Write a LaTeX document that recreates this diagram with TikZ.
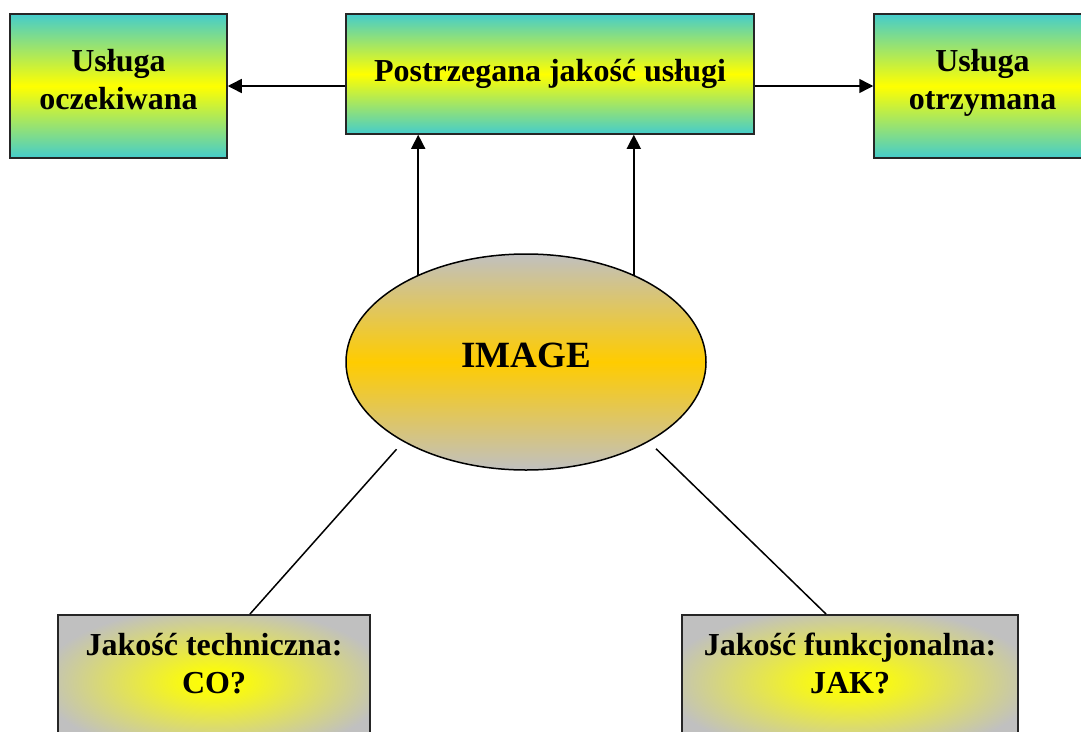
\documentclass[tikz,border=0pt]{standalone}
\usepackage{fontspec}
\setmainfont{Liberation Serif}
\usepackage{tikz}
\usetikzlibrary{positioning,
				shapes.geometric,
				arrows.meta,
				calc}
\definecolor{morski}{HTML}{44CCCC}
\definecolor{szary}{HTML}{C0C0C0}
\definecolor{zloty}{HTML}{FFCC00}
\pgfdeclareradialshading{poswiata}{\pgfpoint{0bp}{0bp}}{color(0bp)=(yellow); color(5bp)=(yellow!90!szary); color(28bp)=(szary); color(50bp)=(szary)}
\newcommand{\dol}{\rule[-13pt]{0pt}{0pt}}
\tikzset{
	gorny/.style={draw=black!85, line width=1.5pt, top color=morski, bottom color=morski, middle color=yellow,
		align=center, inner sep=0pt, font=\fontsize{32}{38}\selectfont\bfseries},
	dolny/.style={draw=black!85, line width=1.5pt, shading=poswiata, anchor=north, inner sep=0pt},
	napis/.style={align=center, inner sep=0pt, font=\fontsize{32}{38}\selectfont\bfseries},
	strz/.style={line width=1.5pt, -{Triangle[length=14pt,width=14pt]}},
	linia/.style={line width=1.5pt}
}

\begin{document}
\begin{tikzpicture}[x=1pt,y=-1pt]
	\clip (0,0) rectangle (1081,731);
	% gorny rzad
	\node[gorny, minimum width=408, minimum height=120] (post) at (550,74) {Postrzegana jakość usługi};
	\node[gorny, minimum width=217, minimum height=144] (oczek) at (118.5,86) {Usługa\\oczekiwana\dol};
	\node[gorny, minimum width=217, minimum height=144] (otrz) at (982.5,86) {Usługa\\otrzymana\dol};
	\draw[strz] (post.west |- oczek.east) -- (oczek.east);
	\draw[strz] (post.east |- otrz.west) -- (otrz.west);
	% image
	\node[ellipse, draw=black, line width=1.5pt, top color=szary, bottom color=szary, middle color=zloty,
		minimum width=360, minimum height=216, inner sep=0pt, text depth=14pt,
		font=\fontsize{37}{44}\selectfont\bfseries] (image) at (526,362) {IMAGE};
	\draw[strz] (image.141) -- (image.141 |- post.south);
	\draw[strz] (image.39) -- (image.39 |- post.south);
	% dolny rzad
	\node[dolny, minimum width=312, minimum height=134] (tech) at (214,614) {};
	\node[dolny, minimum width=336, minimum height=134] (funk) at (850,614) {};
	\node[napis, below=19pt of tech.north] (techtxt) {Jakość techniczna:\\CO?};
	\node[napis, below=19pt of funk.north] (funktxt) {Jakość funkcjonalna:\\JAK?};
	\draw[linia, shorten <=10pt] (image.213) -- ($(tech.north)+(36,0)$);
	\draw[linia, shorten <=10pt] (image.327) -- ($(funk.north)+(-24,0)$);
\end{tikzpicture}
\end{document}
